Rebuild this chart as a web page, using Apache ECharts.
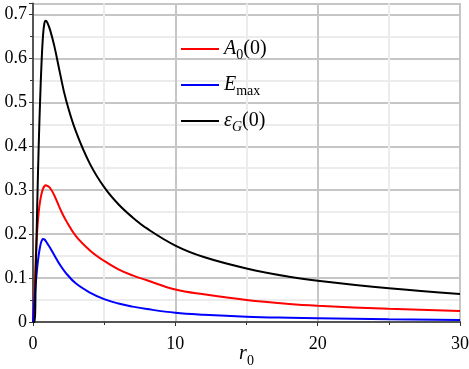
<!DOCTYPE html>
<html>
<head>
<meta charset="utf-8">
<script src="https://cdn.jsdelivr.net/npm/echarts@6/dist/echarts.min.js"></script>
<style>
html, body { margin: 0; padding: 0; background: #fff; }
#chart { width: 469px; height: 369px; }
</style>
</head>
<body>
<div id="chart"></div>
<script>
// r0 sample points
const r0 = [0, 0.1, 0.2, 0.3, 0.4, 0.5, 0.6, 0.7, 0.8, 0.9, 1.0, 1.2, 1.5, 1.9, 2.3, 3, 4, 5, 6, 7, 8, 10, 12, 15, 18, 20, 25, 30];

const a0 = [0, 0.06, 0.15, 0.21, 0.25, 0.275, 0.292, 0.303, 0.309, 0.311, 0.31, 0.305, 0.288, 0.258, 0.232, 0.196, 0.163, 0.139, 0.12, 0.106, 0.095, 0.074, 0.063, 0.05, 0.041, 0.037, 0.03, 0.025];
const emax = [0, 0.05, 0.09, 0.125, 0.152, 0.172, 0.184, 0.189, 0.188, 0.184, 0.179, 0.169, 0.152, 0.13, 0.112, 0.088, 0.067, 0.052, 0.042, 0.035, 0.0295, 0.021, 0.0165, 0.012, 0.0095, 0.0084, 0.0062, 0.0047];
const epsG = [0, 0, 0.12, 0.27, 0.40, 0.505, 0.59, 0.65, 0.68, 0.686, 0.682, 0.665, 0.628, 0.566, 0.508, 0.435, 0.36, 0.307, 0.268, 0.238, 0.213, 0.174, 0.148, 0.122, 0.103, 0.094, 0.077, 0.064];

const yTicks = ['0', '0.1', '0.2', '0.3', '0.4', '0.5', '0.6', '0.7'];

const serif = '"Liberation Serif", "DejaVu Serif", serif';

function pairs(ys) {
  return r0.map((x, i) => [x, ys[i]]);
}

const chart = echarts.init(document.getElementById('chart'));

const options = {
  animation: false,
  grid: {
    left: 33, right: 9, top: 3.5, bottom: 47,
    outerBoundsMode: 'none',
    show: true, borderColor: '#333', borderWidth: 1
  },
  legend: {
    orient: 'vertical',
    left: 176, top: 31,
    itemWidth: 38, itemHeight: 2, itemGap: 10,
    icon: 'rect',
    data: ['A0', 'Emax', 'epsG'],
    formatter: function (name) {
      if (name === 'A0') return '{it|A}{sub|0}{n|(0)}';
      if (name === 'Emax') return '{it|E}{sub|max}';
      return '{it|ε}{subi|G}{n|(0)}';
    },
    textStyle: {
      rich: {
        it: { fontFamily: serif, fontStyle: 'italic', fontSize: 20, lineHeight: 24, color: '#000' },
        n: { fontFamily: serif, fontSize: 20, lineHeight: 24, color: '#000' },
        sub: { fontFamily: serif, fontSize: 14, lineHeight: 24, padding: [12, 0, 0, 0], color: '#000' },
        subi: { fontFamily: serif, fontStyle: 'italic', fontSize: 14, lineHeight: 24, padding: [12, 0, 0, 0], color: '#000' }
      }
    }
  },
  xAxis: {
    type: 'value',
    min: 0, max: 30, interval: 10,
    name: '{it|r}{sub|0}',
    nameLocation: 'middle',
    nameGap: 20,
    nameMoveOverlap: false,
    nameTextStyle: {
      rich: {
        it: { fontFamily: serif, fontStyle: 'italic', fontSize: 20, lineHeight: 24, color: '#000' },
        sub: { fontFamily: serif, fontSize: 14, lineHeight: 24, padding: [15, 0, 0, 0], color: '#000' }
      }
    },
    axisLine: { lineStyle: { color: '#555', width: 2 } },
    axisTick: { show: true, length: 4, lineStyle: { color: '#333' } },
    minorTick: { show: true, splitNumber: 2, length: 3, lineStyle: { color: '#333' } },
    axisLabel: { fontFamily: serif, fontSize: 18, color: '#000', margin: 13 },
    splitLine: { show: true, lineStyle: { color: '#c6c6c6', width: 2 } },
    minorSplitLine: { show: true, lineStyle: { color: '#ececec', width: 2 } }
  },
  yAxis: {
    type: 'value',
    min: 0, max: 0.725, interval: 0.1,
    axisLine: { show: true, lineStyle: { color: '#555', width: 2 } },
    axisTick: { show: true, length: 4, lineStyle: { color: '#333' } },
    minorTick: { show: true, splitNumber: 2, length: 3, lineStyle: { color: '#333' } },
    axisLabel: {
      fontFamily: serif, fontSize: 18, color: '#000', margin: 6,
      showMaxLabel: false,
      formatter: function (v) {
        const i = Math.round(v * 10);
        return Math.abs(v * 10 - i) < 1e-6 ? yTicks[i] : '';
      }
    },
    splitLine: { show: true, lineStyle: { color: '#c6c6c6', width: 2 } },
    minorSplitLine: { show: true, lineStyle: { color: '#ececec', width: 2 } }
  },
  series: [
    { name: 'A0', type: 'line', data: pairs(a0), showSymbol: false, smooth: 0.4,
      lineStyle: { color: '#ff0000', width: 2 }, itemStyle: { color: '#ff0000' } },
    { name: 'Emax', type: 'line', data: pairs(emax), showSymbol: false, smooth: 0.4,
      lineStyle: { color: '#0000ff', width: 2 }, itemStyle: { color: '#0000ff' } },
    { name: 'epsG', type: 'line', data: pairs(epsG), showSymbol: false, smooth: 0.4,
      lineStyle: { color: '#000000', width: 2 }, itemStyle: { color: '#000000' } }
  ]
};

chart.setOption(options);
</script>
</body>
</html>
